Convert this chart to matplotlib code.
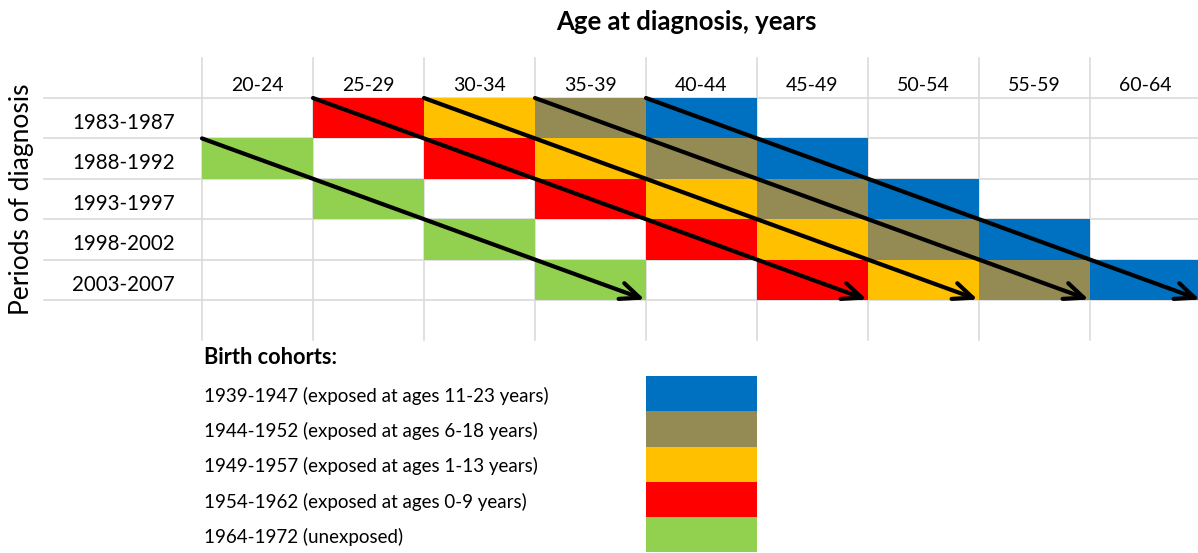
import matplotlib
matplotlib.use("Agg")
import matplotlib.pyplot as plt
from matplotlib.patches import Rectangle, FancyArrowPatch

plt.rcParams['font.family'] = ['Lato', 'DejaVu Sans']

# age groups (columns) and diagnosis periods (rows)
age_groups = ["20-24", "25-29", "30-34", "35-39", "40-44", "45-49", "50-54", "55-59", "60-64"]
periods = ["1983-1987", "1988-1992", "1993-1997", "1998-2002", "2003-2007"]

# birth cohorts, legend order (top to bottom)
cohort_labels = ["1939-1947 (exposed at ages 11-23 years)",
                 "1944-1952 (exposed at ages 6-18 years)",
                 "1949-1957 (exposed at ages 1-13 years)",
                 "1954-1962 (exposed at ages 0-9 years)",
                 "1964-1972 (unexposed)"]
cohort_colors = ["#0070C0", "#948A54", "#FFC000", "#FF0000", "#92D050"]
# age-group column of each cohort in the first period (1983-1987)
cohort_start_col = [4, 3, 2, 1, -1]

fig = plt.figure(figsize=(11.98, 5.53), dpi=100)
ax = fig.add_axes([0, 0, 1, 1])
ax.set_xlim(-202 / 111, (1198 - 202) / 111)
ax.set_ylim((553 - 98) / 40.4, -98 / 40.4)
ax.axis("off")

n_cols = len(age_groups)
n_rows = len(periods)
grid_col = "#DADADA"

# grid
for r in range(n_rows + 1):
    ax.plot([-1.42, n_cols], [r, r], color=grid_col, lw=1.2, zorder=1)
for c in range(n_cols + 1):
    ax.plot([c, c], [-0.99, n_rows + 0.99], color=grid_col, lw=1.2, zorder=1)

# cohort cells + arrows
for start, color in zip(cohort_start_col, cohort_colors):
    cells = [(start + r, r) for r in range(n_rows) if 0 <= start + r < n_cols]
    for c, r in cells:
        ax.add_patch(Rectangle((c, r), 1, 1, facecolor=color, edgecolor="none", zorder=2))
    (c0, r0), (c1, r1) = cells[0], cells[-1]
    arr = FancyArrowPatch((c0, r0), (c1 + 1, r1 + 1),
                          arrowstyle="->,head_length=0.7,head_width=0.3",
                          mutation_scale=20, lw=3, color="black",
                          shrinkA=0, shrinkB=1, zorder=3)
    ax.add_patch(arr)

# labels
for c, lab in enumerate(age_groups):
    ax.text(c + 0.5, -0.32, lab, ha="center", va="center", fontsize=14)
for r, lab in enumerate(periods):
    ax.text(-0.71, r + 0.62, lab, ha="center", va="center", fontsize=14.8)

ax.text(4.36, -1.88, "Age at diagnosis, years", ha="center", va="center",
        fontsize=18.5, fontweight="bold")
ax.text(-1.63, 2.5, "Periods of diagnosis", ha="center", va="center",
        fontsize=19, rotation=90)

# legend
box_h = 35.3 / 40.4
leg_top = (376 - 98) / 40.4
ax.text(0.02, (358 - 98) / 40.4, "Birth cohorts:", ha="left", va="center",
        fontsize=15.7, fontweight="bold")
for i, (lab, color) in enumerate(zip(cohort_labels, cohort_colors)):
    y = leg_top + i * box_h
    ax.add_patch(Rectangle((4, y), 1, box_h, facecolor=color, edgecolor="none", zorder=2))
    ax.text(0.02, y + box_h / 2 + 0.05, lab, ha="left", va="center", fontsize=13.5)

fig.savefig("out.png", dpi=100)
